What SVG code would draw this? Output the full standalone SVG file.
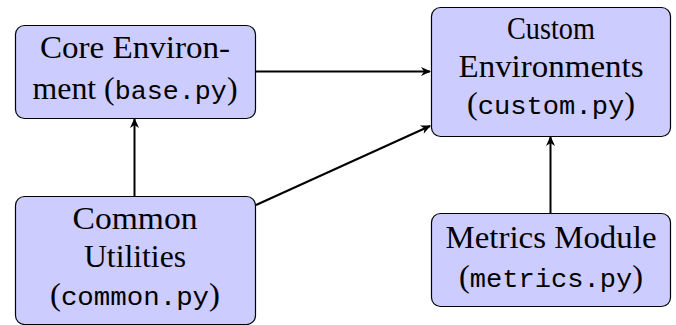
<svg xmlns="http://www.w3.org/2000/svg" width="676" height="325" viewBox="0 0 676 325">
  <style>
    .box { fill: #ccccff; stroke: #000; stroke-width: 1.2; }
    .lbl { font-family: "Liberation Serif", "Times New Roman", serif; font-size: 31px; fill: #000; text-anchor: middle; }
    .tt { font-family: "Liberation Mono", "Courier New", monospace; font-size: 26px; }
    .edge { stroke: #000; stroke-width: 2; fill: none; marker-end: url(#head); }
  </style>
  <defs>
    <marker id="head" viewBox="0 0 10 10" refX="9" refY="5" markerWidth="10" markerHeight="10" markerUnits="userSpaceOnUse" orient="auto" overflow="visible">
      <path d="M0,0.5 L10,5 L0,9.5 L3,5 Z" fill="#000"/>
    </marker>
  </defs>

  <g id="edges">
    <line class="edge" x1="256" y1="71.5" x2="430" y2="71.5"/>
    <line class="edge" x1="256" y1="205" x2="430" y2="126"/>
    <line class="edge" x1="134.5" y1="196" x2="134.5" y2="119"/>
    <line class="edge" x1="550.5" y1="213" x2="550.5" y2="137"/>
  </g>

  <g id="core">
    <rect class="box" x="15.5" y="25.5" width="240" height="93" rx="9"/>
    <text class="lbl" x="135" y="58" textLength="190" lengthAdjust="spacingAndGlyphs">Core Environ-</text>
    <text class="lbl" x="135" y="99" textLength="205" lengthAdjust="spacingAndGlyphs">ment (<tspan class="tt">base.py</tspan>)</text>
  </g>

  <g id="custom">
    <rect class="box" x="431.5" y="7.5" width="239" height="129" rx="9"/>
    <text class="lbl" x="551" y="39" textLength="88" lengthAdjust="spacingAndGlyphs">Custom</text>
    <text class="lbl" x="551" y="77" textLength="185" lengthAdjust="spacingAndGlyphs">Environments</text>
    <text class="lbl" x="551" y="114" textLength="168" lengthAdjust="spacingAndGlyphs">(<tspan class="tt">custom.py</tspan>)</text>
  </g>

  <g id="common">
    <rect class="box" x="15.5" y="196.5" width="240" height="128" rx="9"/>
    <text class="lbl" x="135" y="229" textLength="125" lengthAdjust="spacingAndGlyphs">Common</text>
    <text class="lbl" x="135" y="267" textLength="102" lengthAdjust="spacingAndGlyphs">Utilities</text>
    <text class="lbl" x="135" y="305" textLength="170" lengthAdjust="spacingAndGlyphs">(<tspan class="tt">common.py</tspan>)</text>
  </g>

  <g id="metrics">
    <rect class="box" x="431.5" y="213.5" width="239" height="93" rx="9"/>
    <text class="lbl" x="551" y="248" textLength="211" lengthAdjust="spacingAndGlyphs">Metrics Module</text>
    <text class="lbl" x="551" y="287" textLength="184" lengthAdjust="spacingAndGlyphs">(<tspan class="tt">metrics.py</tspan>)</text>
  </g>
</svg>
